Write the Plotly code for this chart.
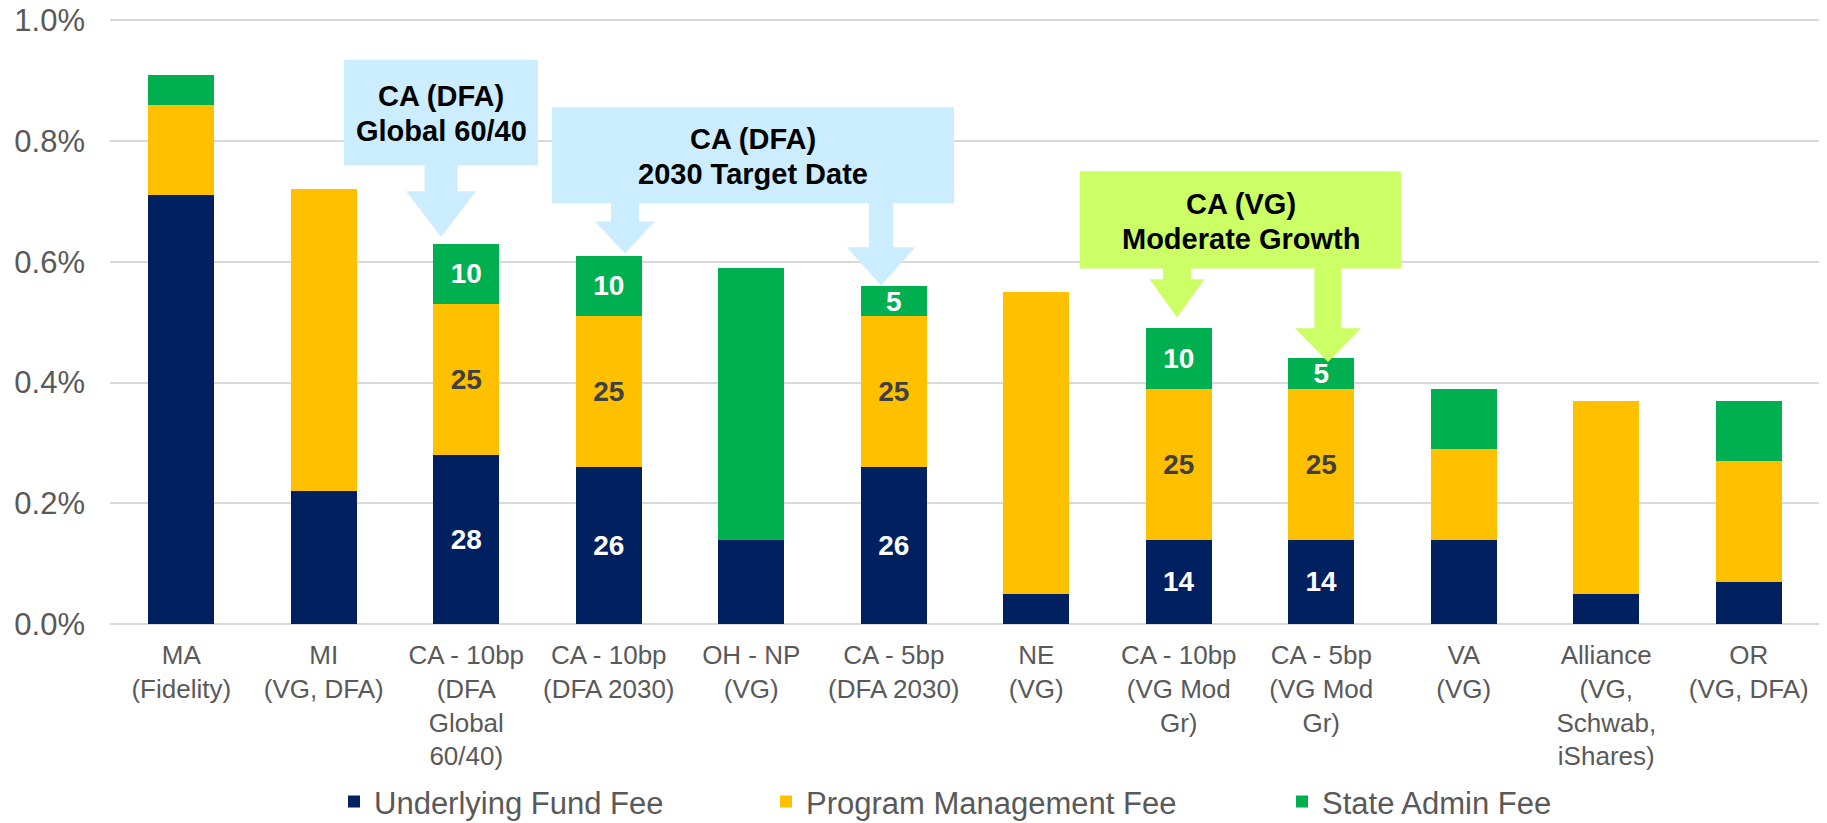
import plotly.graph_objects as go

categories = [
    "MA<br>(Fidelity)",
    "MI<br>(VG, DFA)",
    "CA - 10bp<br>(DFA<br>Global<br>60/40)",
    "CA - 10bp<br>(DFA 2030)",
    "OH - NP<br>(VG)",
    "CA - 5bp<br>(DFA 2030)",
    "NE<br>(VG)",
    "CA - 10bp<br>(VG Mod<br>Gr)",
    "CA - 5bp<br>(VG Mod<br>Gr)",
    "VA<br>(VG)",
    "Alliance<br>(VG,<br>Schwab,<br>iShares)",
    "OR<br>(VG, DFA)",
]

# fees in percent
underlying_fund_fee = [0.71, 0.22, 0.28, 0.26, 0.14, 0.26, 0.05, 0.14, 0.14, 0.14, 0.05, 0.07]
program_mgmt_fee = [0.15, 0.50, 0.25, 0.25, 0.00, 0.25, 0.50, 0.25, 0.25, 0.15, 0.32, 0.20]
state_admin_fee = [0.05, 0.00, 0.10, 0.10, 0.45, 0.05, 0.00, 0.10, 0.05, 0.10, 0.00, 0.10]

# which bars carry basis-point labels
labeled = [False, False, True, True, False, True, False, True, True, False, False, False]

series_names = ["Underlying Fund Fee", "Program Management Fee", "State Admin Fee"]
series_colors = ["#002060", "#FFC000", "#00B050"]
label_colors = ["white", "#404040", "white"]
legend_widths = [387, 471, 240]

FONT = "Arial, Liberation Sans, sans-serif"

fig = go.Figure()
for name, vals, col, lcol, lw in zip(series_names,
                                     [underlying_fund_fee, program_mgmt_fee, state_admin_fee],
                                     series_colors, label_colors, legend_widths):
    txt = [f"{round(v * 100)}" if (lab and v > 0) else "" for v, lab in zip(vals, labeled)]
    fig.add_trace(go.Bar(
        x=categories, y=vals, name=name,
        marker=dict(color=col, line=dict(width=0)),
        text=txt, texttemplate="<b>%{text}</b>",
        textposition="inside", insidetextanchor="middle",
        constraintext="none", textangle=0,
        textfont=dict(family=FONT, size=28, color=lcol),
        legendwidth=lw,
    ))

totals = [a + b + c for a, b, c in zip(underlying_fund_fee, program_mgmt_fee, state_admin_fee)]

# callouts: box (x0, x1, y0, y1) and arrows (target idx, dx, tip gap, head height, head half width, shaft half width)
callouts = [
    dict(lines=["CA (DFA)", "Global 60/40"], color="#CCECFF",
         box=(1.142, 2.504, 0.760, 0.935),
         arrows=[(2, -0.177, 0.011, 0.076, 0.245, 0.116)]),
    dict(lines=["CA (DFA)", "2030 Target Date"], color="#CCECFF",
         box=(2.602, 5.423, 0.697, 0.856),
         arrows=[(3, 0.114, 0.004, 0.053, 0.21, 0.098),
                 (5, -0.089, 0.001, 0.063, 0.239, 0.085)]),
    dict(lines=["CA (VG)", "Moderate Growth"], color="#CCFF66",
         box=(6.307, 8.560, 0.589, 0.750),
         arrows=[(7, -0.012, 0.018, 0.063, 0.193, 0.099),
                 (8, 0.047, -0.006, 0.056, 0.232, 0.095)]),
]

for co in callouts:
    x0, x1, y0, y1 = co["box"]
    path = f"M{x0},{y0} L{x1},{y0} L{x1},{y1} L{x0},{y1} Z"
    for idx, dx, gap, hh, hhw, shw in co["arrows"]:
        tx = idx + dx
        ty = totals[idx] + gap
        hb = ty + hh
        path += (f" M{tx - shw},{y0} L{tx - shw},{hb} L{tx - hhw},{hb} L{tx},{ty}"
                 f" L{tx + hhw},{hb} L{tx + shw},{hb} L{tx + shw},{y0} Z")
    fig.add_shape(type="path", path=path, xref="x", yref="y",
                  fillcolor=co["color"], line=dict(width=0), layer="above")
    yc = (y0 + y1) / 2 - 0.002
    for k, line in enumerate(co["lines"]):
        fig.add_annotation(x=(x0 + x1) / 2, y=yc + (0.029 if k == 0 else -0.029),
                           xref="x", yref="y", yanchor="middle",
                           text=f"<b>{line}</b>", showarrow=False,
                           font=dict(family=FONT, size=29, color="black"),
                           align="center")

fig.update_layout(
    width=1819, height=815,
    margin=dict(l=102, r=7, t=10, b=199, autoexpand=False),
    barmode="stack", bargap=0.537,
    plot_bgcolor="white", paper_bgcolor="white",
    font=dict(family=FONT, color="#595959"),
    showlegend=True,
    legend=dict(orientation="h", x=0.131, xanchor="left", y=-0.2935, yanchor="middle",
                font=dict(family=FONT, size=31, color="#595959"),
                traceorder="normal", itemclick=False),
    xaxis=dict(type="category", tickfont=dict(family=FONT, size=26, color="#595959"),
               showgrid=False, ticks="", ticklabelstandoff=13, showline=False,
               automargin=False),
    yaxis=dict(range=[0, 1.004], dtick=0.2, tickformat=".1f", ticksuffix="%",
               tickfont=dict(family=FONT, size=31, color="#595959"),
               showgrid=True, gridcolor="#D9D9D9", gridwidth=2,
               zeroline=True, zerolinecolor="#D9D9D9", zerolinewidth=2,
               ticks="", ticklabelstandoff=24, ticklabeloverflow="allow",
               showline=False, automargin=False),
)

fig.write_html("out.html")
